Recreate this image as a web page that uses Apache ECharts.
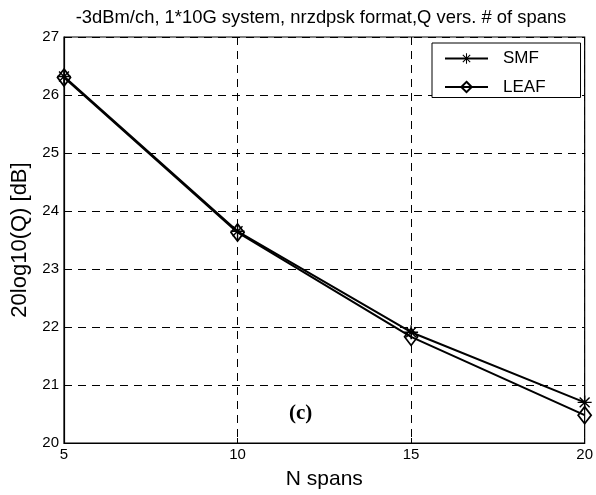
<!DOCTYPE html>
<html><head><meta charset="utf-8">
<script src="https://cdn.jsdelivr.net/npm/echarts@6/dist/echarts.min.js"></script>
<style>html,body{margin:0;padding:0;background:#fff}#c{width:596px;height:495px}</style>
</head><body><div id="c"></div>
<script>
const spans = [5, 10, 15, 20];
const smf = [26.32, 23.65, 21.91, 20.70];
const leaf = [26.30, 23.63, 21.83, 20.48];
const xTicks = [5, 10, 15, 20];
const yTicks = [20, 21, 22, 23, 24, 25, 26, 27];

const star = 'path://M-0.6,-6L0.6,-6L0.6,6L-0.6,6Z M-6,-0.6L6,-0.6L6,0.6L-6,0.6Z M-4.67,-3.82L-3.82,-4.67L4.67,3.82L3.82,4.67Z M3.82,-4.67L4.67,-3.82L-3.82,4.67L-4.67,3.82Z';
const font = 'Liberation Sans, Arial, sans-serif';
const chart = echarts.init(document.getElementById('c'), null, {renderer: 'canvas'});
chart.setOption({
  animation: false,
  backgroundColor: '#fff',
  title: {text: '-3dBm/ch, 1*10G system, nrzdpsk format,Q vers. # of spans', left: 316, textAlign: 'center', top: 4,
    textStyle: {fontFamily: font, fontSize: 18.4, fontWeight: 'normal', color: '#000'}},
  grid: {left: 64, right: 10, top: 37, bottom: 49, show: true, borderColor: '#000', borderWidth: 1.2, backgroundColor: 'transparent'},
  legend: {orient: 'vertical', left: 432, top: 43, itemWidth: 43, itemHeight: 13, itemGap: 11.5,
    backgroundColor: '#fff', borderColor: '#000', borderWidth: 1, borderRadius: 0, padding: [7, 35, 2, 12],
    textStyle: {fontFamily: font, fontSize: 17, color: '#000', padding: [0, 0, 0, 10]},
    data: ['SMF', 'LEAF']},
  xAxis: {type: 'value', min: 5, max: 20, interval: 5, name: 'N spans', nameLocation: 'middle', nameGap: 26,
    nameTextStyle: {fontFamily: font, fontSize: 21, color: '#000'},
    axisLine: {show: true, lineStyle: {color: '#000', width: 1.2}},
    axisTick: {show: true, inside: true, length: 5, lineStyle: {color: '#000'}},
    axisLabel: {fontFamily: font, fontSize: 15, color: '#000', margin: 4, customValues: xTicks},
    splitLine: {show: true, lineStyle: {color: '#000', type: [8, 6], width: 1}}},
  yAxis: {type: 'value', min: 20, max: 27, interval: 1, name: '20log10(Q) [dB]', nameLocation: 'middle', nameGap: 30,
    nameTextStyle: {fontFamily: font, fontSize: 22, color: '#000'},
    axisLine: {show: true, lineStyle: {color: '#000', width: 1.2}},
    axisTick: {show: true, inside: true, length: 5, lineStyle: {color: '#000'}},
    axisLabel: {fontFamily: font, fontSize: 15, color: '#000', margin: 5, customValues: yTicks},
    splitLine: {show: true, lineStyle: {color: '#000', type: [8, 6], width: 1}}},
  graphic: [{type: 'text', left: 289, top: 403, style: {text: '(c)', font: 'bold 21px "Liberation Serif", "Times New Roman", serif', fill: '#000'}}],
  series: [
    {name: 'SMF', type: 'line', data: spans.map((x, i) => [x, smf[i]]), symbol: star, symbolSize: 14,
      lineStyle: {color: '#000', width: 2}, itemStyle: {color: '#000', borderWidth: 0}, z: 3},
    {name: 'LEAF', type: 'line', data: spans.map((x, i) => [x, leaf[i]]), symbol: 'diamond', symbolSize: [13, 17],
      lineStyle: {color: '#000', width: 2}, itemStyle: {color: 'rgba(255,255,255,0)', borderColor: '#000', borderWidth: 1.8}, z: 4}
  ]
});
</script></body></html>
